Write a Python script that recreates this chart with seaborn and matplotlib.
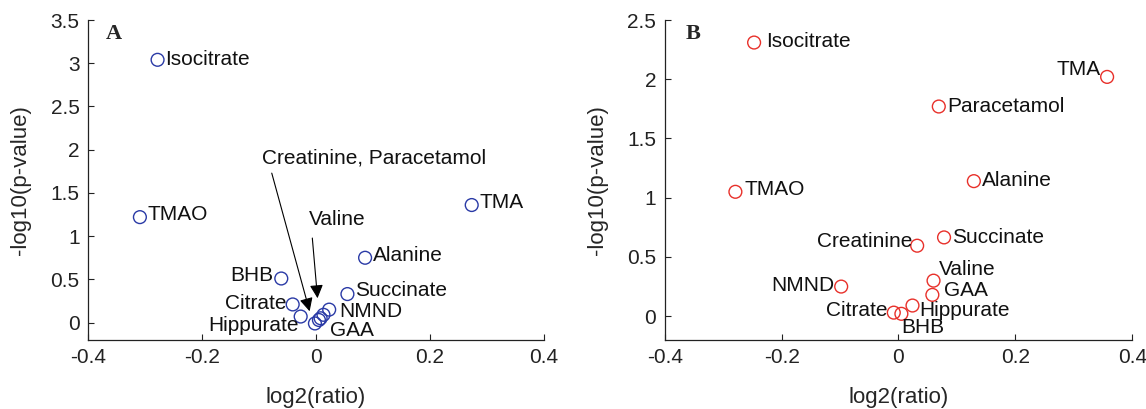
import numpy as np
import pandas as pd
import matplotlib
matplotlib.use("Agg")
import matplotlib.pyplot as plt
import matplotlib.ticker as mtick
import seaborn as sns

### Data

# panel A
names_a = ["Isocitrate", "TMAO", "TMA", "Alanine", "BHB", "Succinate", "Citrate",
           "Hippurate", "NMND", "GAA", "Creatinine", "Paracetamol", "Valine"]
x_a = [-0.278, -0.309, 0.273, 0.086, -0.061, 0.055, -0.041,
       -0.027, 0.023, 0.005, -0.002, 0.008, 0.013]
y_a = [3.04, 1.22, 1.36, 0.75, 0.51, 0.33, 0.21,
       0.07, 0.15, 0.03, -0.01, 0.05, 0.09]

# panel B
names_b = ["Isocitrate", "TMA", "Paracetamol", "TMAO", "Alanine", "Succinate", "Creatinine",
           "Valine", "NMND", "GAA", "Hippurate", "Citrate", "BHB"]
x_b = [-0.247, 0.357, 0.069, -0.279, 0.129, 0.078, 0.032,
       0.060, -0.098, 0.058, 0.024, -0.008, 0.005]
y_b = [2.31, 2.02, 1.77, 1.05, 1.14, 0.665, 0.595,
       0.30, 0.25, 0.18, 0.09, 0.03, 0.02]

x_ticks = [-0.4, -0.2, 0, 0.2, 0.4]
y_ticks_a = [0, 0.5, 1, 1.5, 2, 2.5, 3, 3.5]
y_ticks_b = [0, 0.5, 1, 1.5, 2, 2.5]

# label placement: (dx px, dy px, ha)
labels_a = {"Isocitrate": (8, 0, "left"), "TMAO": (8, 3, "left"), "TMA": (8, 3, "left"),
            "Alanine": (8, 2, "left"), "BHB": (-8, 3, "right"), "Succinate": (8, 4, "left"),
            "Citrate": (-6, 1, "right"), "Hippurate": (-2, -9, "right"),
            "NMND": (10, -2, "left"), "GAA": (11, -11, "left")}
labels_b = {"Isocitrate": (12, 1, "left"), "TMA": (-6, 7, "right"), "Paracetamol": (8, 0, "left"),
            "TMAO": (9, 2, "left"), "Alanine": (8, 1, "left"), "Succinate": (8, 0, "left"),
            "Creatinine": (-5, 4, "right"), "Valine": (5, 11, "left"), "NMND": (-7, 1, "right"),
            "GAA": (12, 4, "left"), "Hippurate": (7, -5, "left"), "Citrate": (-6, 2, "right"),
            "BHB": (0, -14, "left")}

df_a = pd.DataFrame({"name": names_a, "x": x_a, "y": y_a})
df_b = pd.DataFrame({"name": names_b, "x": x_b, "y": y_b})

### Visuals

sns.set_theme(style="ticks")
plt.rcParams["font.family"] = ["Liberation Sans", "DejaVu Sans"]
plt.rcParams["xtick.direction"] = "in"
plt.rcParams["ytick.direction"] = "in"

FS = 15

fig = plt.figure(figsize=(11.46, 4.09), dpi=100)
ax_a = fig.add_axes([0.0768, 0.169, 0.398, 0.782])
ax_b = fig.add_axes([0.580, 0.169, 0.408, 0.782])

fmt = mtick.FuncFormatter(lambda v, p: ("%g" % v).replace("\u2212", "-"))


def style_axes(ax, yticks, ylim):
    ax.set_xlim(-0.4, 0.4)
    ax.set_ylim(*ylim)
    ax.set_xticks(x_ticks)
    ax.set_yticks(yticks)
    ax.xaxis.set_major_formatter(fmt)
    ax.yaxis.set_major_formatter(fmt)
    ax.tick_params(labelsize=FS, length=4, width=0.8, colors="#222222", pad=6)
    for s in ["top", "right"]:
        ax.spines[s].set_visible(False)
    for s in ["left", "bottom"]:
        ax.spines[s].set_linewidth(0.9)
        ax.spines[s].set_color("#222222")
    ax.set_xlabel("log2(ratio)", fontsize=FS + 1, labelpad=14)
    ax.set_ylabel("-log10(p-value)", fontsize=FS + 1, labelpad=14)


def draw_panel(ax, df, color, labels):
    sns.scatterplot(data=df, x="x", y="y", ax=ax, marker="o", s=85,
                    facecolors="none", edgecolor=color, linewidth=1.0, legend=False)
    for _, row in df.iterrows():
        if row["name"] in labels:
            dx, dy, ha = labels[row["name"]]
            ax.annotate(row["name"], (row["x"], row["y"]), xytext=(dx, dy),
                        textcoords="offset pixels", ha=ha, va="center",
                        fontsize=FS, color="#111111")


# Panel A
draw_panel(ax_a, df_a, "#2a3aa6", labels_a)
style_axes(ax_a, y_ticks_a, (-0.2, 3.5))
ax_a.text(-0.095, 1.90, "Creatinine, Paracetamol", ha="left", va="center", fontsize=FS, color="#111111")
ax_a.annotate("", xy=(-0.010, 0.10), xytext=(-0.079, 1.76),
              arrowprops=dict(arrowstyle="-|>", color="black", lw=0.8, mutation_scale=20))
ax_a.text(-0.012, 1.19, "Valine", ha="left", va="center", fontsize=FS, color="#111111")
ax_a.annotate("", xy=(0.003, 0.25), xytext=(-0.007, 1.01),
              arrowprops=dict(arrowstyle="-|>", color="black", lw=0.8, mutation_scale=20))
ax_a.text(0.04, 0.955, "A", transform=ax_a.transAxes, fontsize=16, fontweight="bold",
          family="Liberation Serif", ha="left", va="center")

# Panel B
draw_panel(ax_b, df_b, "#e8302a", labels_b)
style_axes(ax_b, y_ticks_b, (-0.2, 2.5))
ax_b.text(0.044, 0.955, "B", transform=ax_b.transAxes, fontsize=16, fontweight="bold",
          family="Liberation Serif", ha="left", va="center")

fig.savefig("out.png", dpi=100)
